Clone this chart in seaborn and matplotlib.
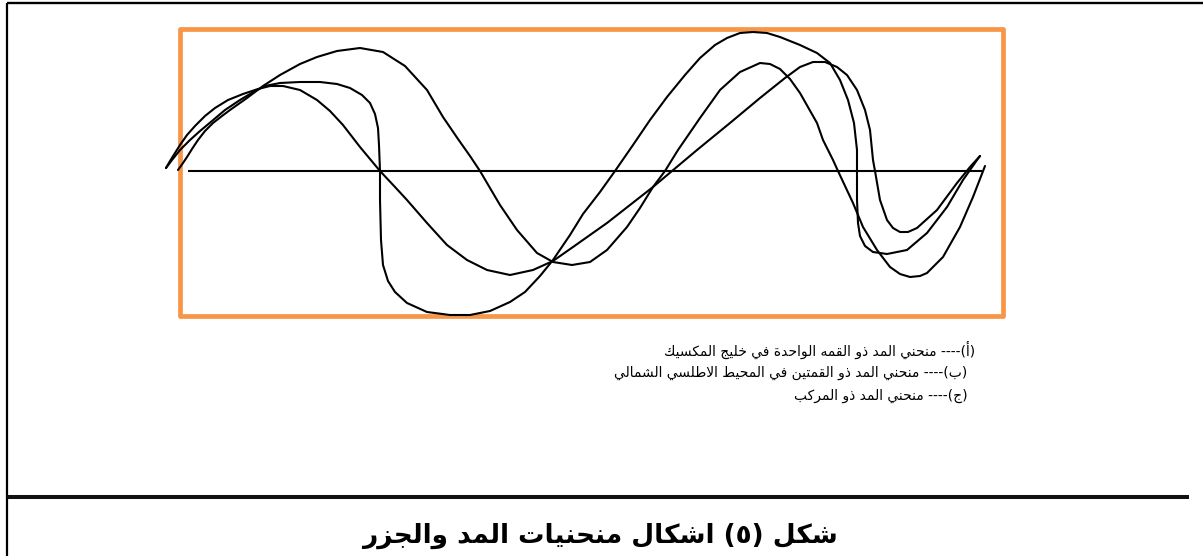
import matplotlib
matplotlib.use("Agg")
import matplotlib.pyplot as plt
from matplotlib.patches import Rectangle
import seaborn as sns

# ---------------------------------------------------------------------------
# Tide curves: time position (t) and water level above mean sea level (h)
# ---------------------------------------------------------------------------
MEAN_LEVEL_ROW = 171  # row of the mean-level line, used to turn rows into heights

curve_1_t = [166, 172, 180, 190, 200, 212, 225, 240, 255, 265, 280, 300, 320, 337,
             350, 362, 370, 375, 378, 379, 380, 380, 381, 383, 388, 395, 407, 427,
             450, 470, 490, 510, 525, 540, 553, 570, 583, 600, 615, 633, 650, 667,
             685, 700, 715, 727, 740, 753, 767, 780, 800, 817, 830, 840, 848, 854,
             857, 857, 857, 858, 860, 865, 873, 887, 907, 927, 947, 963, 977, 980]
curve_1_row = [168, 160, 150, 140, 131, 121, 110, 100, 91, 86, 83, 82, 82, 84,
               88, 95, 103, 114, 128, 145, 171, 200, 240, 265, 281, 292, 303, 312,
               315, 315, 311, 302, 292, 276, 260, 235, 214, 192, 171, 145, 120, 97,
               75, 58, 45, 38, 33, 32, 33, 37, 45, 53, 63, 80, 100, 123,
               150, 171, 200, 223, 236, 246, 252, 254, 250, 233, 207, 180, 160, 156]

curve_2_t = [166, 170, 175, 180, 187, 195, 205, 215, 228, 243, 258, 270, 283, 300,
             317, 330, 343, 360, 380, 395, 407, 427, 447, 467, 487, 510, 533, 553,
             573, 590, 607, 630, 653, 672, 697, 730, 760, 785, 800, 813, 825, 837,
             847, 857, 865, 870, 873, 875, 880, 887, 893, 900, 908, 917, 937, 957, 970, 980]
curve_2_row = [168, 161, 153, 145, 135, 126, 116, 108, 100, 94, 89, 86, 86, 90,
               100, 111, 125, 147, 171, 187, 200, 223, 245, 260, 270, 275, 270, 261,
               247, 235, 223, 205, 187, 171, 150, 123, 98, 78, 67, 62, 62, 67,
               75, 90, 110, 130, 160, 171, 200, 220, 228, 232, 232, 228, 210, 183, 167, 156]

curve_3_t = [178, 183, 187, 192, 198, 205, 213, 222, 230, 247, 263, 280, 300, 317,
             337, 360, 383, 405, 427, 443, 458, 470, 480, 500, 517, 537, 553, 572,
             590, 607, 627, 640, 653, 665, 678, 700, 720, 740, 760, 770, 780, 790,
             800, 817, 823, 833, 838, 853, 863, 877, 890, 900, 910, 920, 927, 943,
             960, 973, 985]
curve_3_row = [170, 163, 157, 149, 140, 131, 123, 116, 110, 98, 86, 75, 64, 57,
               51, 48, 52, 66, 90, 117, 139, 156, 171, 205, 230, 253, 262, 265,
               262, 250, 227, 208, 187, 171, 150, 118, 90, 72, 63, 64, 69, 79,
               93, 123, 140, 160, 171, 203, 227, 250, 267, 274, 277, 276, 273, 257,
               227, 197, 166]

mean_line_t = [188, 982]

legend_lines = [
    "(أ)---- منحني المد ذو القمه الواحدة في خليج المكسيك",
    " (ب)---- منحني المد ذو القمتين في المحيط الاطلسي الشمالي",
    " (ج)---- منحني المد ذو المركب",
]
caption_text = "شكل (٥) اشكال منحنيات المد والجزر"

# ---------------------------------------------------------------------------
# Minimal Arabic contextual shaping + visual ordering for right-to-left lines
# ---------------------------------------------------------------------------
ARABIC_FORMS = {
    # letter: (isolated, final, initial, medial)
    "\u0622": ("\uFE81", "\uFE82", None, None),
    "\u0623": ("\uFE83", "\uFE84", None, None),
    "\u0625": ("\uFE87", "\uFE88", None, None),
    "\u0627": ("\uFE8D", "\uFE8E", None, None),
    "\u0628": ("\uFE8F", "\uFE90", "\uFE91", "\uFE92"),
    "\u0629": ("\uFE93", "\uFE94", None, None),
    "\u062A": ("\uFE95", "\uFE96", "\uFE97", "\uFE98"),
    "\u062B": ("\uFE99", "\uFE9A", "\uFE9B", "\uFE9C"),
    "\u062C": ("\uFE9D", "\uFE9E", "\uFE9F", "\uFEA0"),
    "\u062D": ("\uFEA1", "\uFEA2", "\uFEA3", "\uFEA4"),
    "\u062E": ("\uFEA5", "\uFEA6", "\uFEA7", "\uFEA8"),
    "\u062F": ("\uFEA9", "\uFEAA", None, None),
    "\u0630": ("\uFEAB", "\uFEAC", None, None),
    "\u0631": ("\uFEAD", "\uFEAE", None, None),
    "\u0632": ("\uFEAF", "\uFEB0", None, None),
    "\u0633": ("\uFEB1", "\uFEB2", "\uFEB3", "\uFEB4"),
    "\u0634": ("\uFEB5", "\uFEB6", "\uFEB7", "\uFEB8"),
    "\u0635": ("\uFEB9", "\uFEBA", "\uFEBB", "\uFEBC"),
    "\u0636": ("\uFEBD", "\uFEBE", "\uFEBF", "\uFEC0"),
    "\u0637": ("\uFEC1", "\uFEC2", "\uFEC3", "\uFEC4"),
    "\u0638": ("\uFEC5", "\uFEC6", "\uFEC7", "\uFEC8"),
    "\u0639": ("\uFEC9", "\uFECA", "\uFECB", "\uFECC"),
    "\u063A": ("\uFECD", "\uFECE", "\uFECF", "\uFED0"),
    "\u0641": ("\uFED1", "\uFED2", "\uFED3", "\uFED4"),
    "\u0642": ("\uFED5", "\uFED6", "\uFED7", "\uFED8"),
    "\u0643": ("\uFED9", "\uFEDA", "\uFEDB", "\uFEDC"),
    "\u0644": ("\uFEDD", "\uFEDE", "\uFEDF", "\uFEE0"),
    "\u0645": ("\uFEE1", "\uFEE2", "\uFEE3", "\uFEE4"),
    "\u0646": ("\uFEE5", "\uFEE6", "\uFEE7", "\uFEE8"),
    "\u0647": ("\uFEE9", "\uFEEA", "\uFEEB", "\uFEEC"),
    "\u0648": ("\uFEED", "\uFEEE", None, None),
    "\u0649": ("\uFEEF", "\uFEF0", None, None),
    "\u064A": ("\uFEF1", "\uFEF2", "\uFEF3", "\uFEF4"),
}
LAM_ALEF = {
    "\u0622": ("\uFEF5", "\uFEF6"),
    "\u0623": ("\uFEF7", "\uFEF8"),
    "\u0625": ("\uFEF9", "\uFEFA"),
    "\u0627": ("\uFEFB", "\uFEFC"),
}
MIRROR = {"(": ")", ")": "("}


def shape_rtl(text):
    tokens = []
    i = 0
    while i < len(text):
        c = text[i]
        if c == "\u0644" and i + 1 < len(text) and text[i + 1] in LAM_ALEF:
            tokens.append(("LA", text[i + 1]))
            i += 2
        else:
            tokens.append((c, None))
            i += 1

    def joins_next(tok):
        c = tok[0]
        if c == "LA":
            return False
        forms = ARABIC_FORMS.get(c)
        return forms is not None and forms[2] is not None

    def joins_prev(tok):
        return tok[0] == "LA" or tok[0] in ARABIC_FORMS

    out = []
    for k, tok in enumerate(tokens):
        c, alef = tok
        prev_j = k > 0 and joins_next(tokens[k - 1]) and joins_prev(tok)
        next_j = k + 1 < len(tokens) and joins_next(tok) and joins_prev(tokens[k + 1])
        if c == "LA":
            out.append(LAM_ALEF[alef][1 if prev_j else 0])
        elif c in ARABIC_FORMS:
            iso, fin, ini, med = ARABIC_FORMS[c]
            if prev_j and next_j:
                out.append(med)
            elif prev_j:
                out.append(fin)
            elif next_j:
                out.append(ini)
            else:
                out.append(iso)
        else:
            out.append(c)
    return "".join(MIRROR.get(ch, ch) for ch in reversed(out))


def to_height(rows):
    return [MEAN_LEVEL_ROW - r for r in rows]


# ---------------------------------------------------------------------------
# Figure
# ---------------------------------------------------------------------------
sns.set_style("white")
plt.rcParams["font.family"] = ["DejaVu Sans"]

W, H = 1203, 556
fig = plt.figure(figsize=(W / 100, H / 100), dpi=100)
ax = fig.add_axes([0, 0, 1, 1])
ax.set_xlim(0, W)
ax.set_ylim(MEAN_LEVEL_ROW - H, MEAN_LEVEL_ROW)
ax.axis("off")

# page frame (left and top edges) and the rule above the caption
ax.plot([7, 7], [MEAN_LEVEL_ROW - H - 5, MEAN_LEVEL_ROW - 3], color="black", lw=1.6,
        solid_capstyle="butt")
ax.plot([7, W + 5], [MEAN_LEVEL_ROW - 3, MEAN_LEVEL_ROW - 3], color="black", lw=1.7,
        solid_capstyle="butt")
ax.plot([7, 1189], [MEAN_LEVEL_ROW - 497, MEAN_LEVEL_ROW - 497], color="#111111", lw=2.9,
        solid_capstyle="butt")

# orange frame around the curves
ax.add_patch(Rectangle((180, MEAN_LEVEL_ROW - 315.5), 822.5, 286.5, fill=False,
                       edgecolor="#F79646", lw=3.4, joinstyle="round", zorder=1))

# mean sea level
ax.plot(mean_line_t, [0, 0], color="black", lw=1.5, solid_capstyle="butt", zorder=2)

for t, rows in [(curve_1_t, curve_1_row), (curve_2_t, curve_2_row), (curve_3_t, curve_3_row)]:
    sns.lineplot(x=t, y=to_height(rows), sort=False, estimator=None, color="black",
                 lw=1.5, ax=ax, zorder=3)

# legend text (right aligned, right-to-left)
legend_rows = [350, 373, 396]
legend_right = [975, 972, 972]
for line, row, xr in zip(legend_lines, legend_rows, legend_right):
    ax.text(xr, MEAN_LEVEL_ROW - row, shape_rtl(line), ha="right", va="center",
            fontsize=10, color="black")

ax.text(600, MEAN_LEVEL_ROW - 536, shape_rtl(caption_text), ha="center", va="center",
        fontsize=19, fontweight="bold", color="black")

fig.savefig("out.png", dpi=100)
